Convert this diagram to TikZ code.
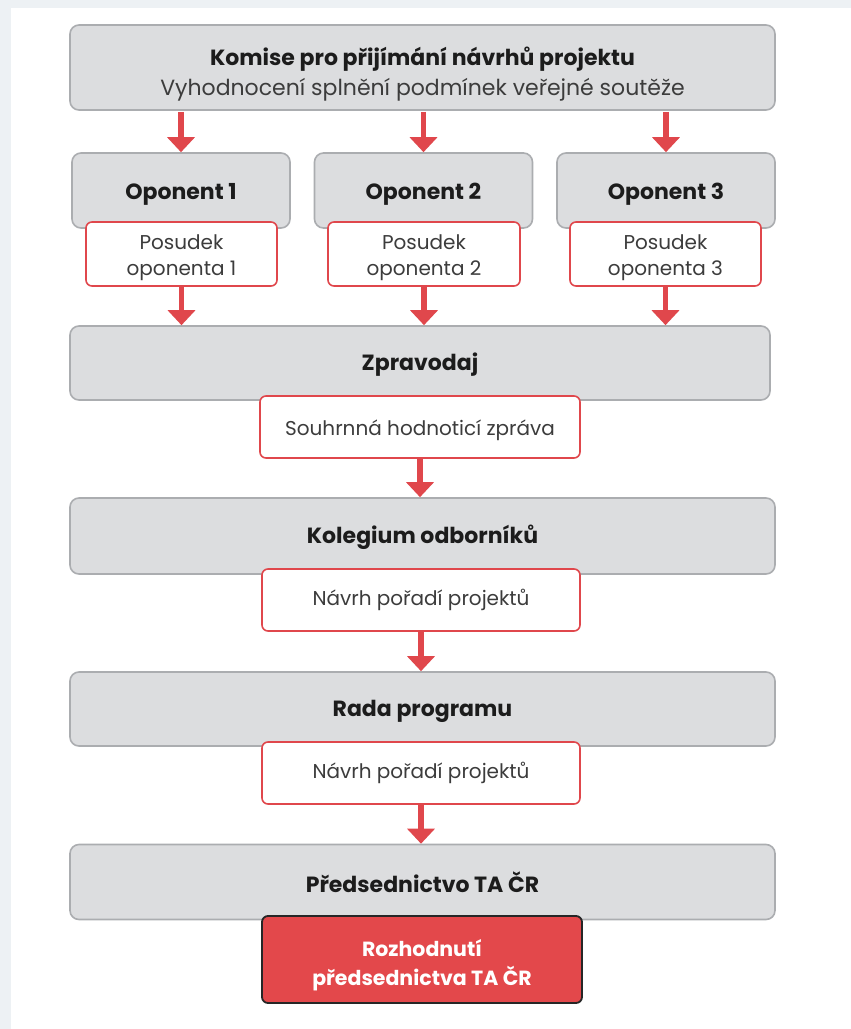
\documentclass[tikz,border=0pt]{standalone}
\usepackage{fontspec}
\setmainfont{Poppins}
\usetikzlibrary{arrows.meta}
\definecolor{boxgray}{HTML}{DCDDDF}
\definecolor{bordergray}{HTML}{ABADB0}
\definecolor{myred}{HTML}{E0474C}
\definecolor{fillred}{HTML}{E3484B}
\definecolor{bgstrip}{HTML}{EDF1F4}
\definecolor{txtdark}{HTML}{1C1C1C}
\definecolor{txtsub}{HTML}{3C3C3C}
\newcommand{\lowtext}[2]{\raisebox{-#1}[0pt][0pt]{\begin{tabular}{@{}c@{}}#2\end{tabular}}}
\tikzset{
  graybox/.style={draw=bordergray, line width=1.6pt, fill=boxgray, rounded corners=9pt, inner sep=0pt, text=txtdark, align=center},
  outbox/.style={draw=myred, line width=1.6pt, fill=white, rounded corners=6pt, inner sep=0pt, text=txtsub, align=center, font=\fontsize{20}{26}\selectfont},
  finalbox/.style={draw=black!85, line width=1.8pt, fill=fillred, rounded corners=6pt, inner sep=0pt, text=white, align=center, font=\bfseries\fontsize{20.5}{29}\selectfont},
  flow/.style={draw=myred, line width=5.5pt, -{Triangle[width=27pt,length=15pt]}},
  titlefont/.style={font=\bfseries\fontsize{22}{26}\selectfont}
}
\begin{document}
\begin{tikzpicture}[x=1pt,y=-1pt]
\useasboundingbox (0,0) rectangle (851,1029);
\fill[bgstrip] (0,0) rectangle (851,1029);
\fill[white] (11,8) rectangle (851,1029);

% gray boxes
\node[graybox, font=\fontsize{22}{30}\selectfont, minimum width=705pt, minimum height=85pt] (top) at (422.5,67.5)
  {\lowtext{12pt}{\bfseries Komise pro přijímání návrhů projektu\\
   \color{txtsub}Vyhodnocení splnění podmínek veřejné soutěže}};
\node[graybox, titlefont, minimum width=218pt, minimum height=75pt] (op1) at (181,190.5) {\lowtext{9pt}{Oponent 1}};
\node[graybox, titlefont, minimum width=218pt, minimum height=75pt] (op2) at (423.5,190.5) {\lowtext{9pt}{Oponent 2}};
\node[graybox, titlefont, minimum width=218pt, minimum height=75pt] (op3) at (666,190.5) {\lowtext{9pt}{Oponent 3}};
\node[graybox, titlefont, minimum width=700pt, minimum height=74pt] (zpr) at (420,363) {\lowtext{7.5pt}{Zpravodaj}};
\node[graybox, titlefont, minimum width=705pt, minimum height=76pt] (kol) at (422.5,536) {\lowtext{7.5pt}{Kolegium odborníků}};
\node[graybox, titlefont, minimum width=705pt, minimum height=74pt] (rada) at (422.5,709) {\lowtext{7.5pt}{Rada programu}};
\node[graybox, titlefont, minimum width=705pt, minimum height=75pt] (pred) at (422.5,882) {Předsednictvo TA ČR};

% output boxes
\node[outbox, minimum width=191pt, minimum height=64pt] (p1) at (181.5,254) {\lowtext{8.5pt}{Posudek\\oponenta 1}};
\node[outbox, minimum width=192pt, minimum height=64pt] (p2) at (424,254) {\lowtext{8.5pt}{Posudek\\oponenta 2}};
\node[outbox, minimum width=191pt, minimum height=64pt] (p3) at (665.5,254) {\lowtext{8.5pt}{Posudek\\oponenta 3}};
\node[outbox, minimum width=320pt, minimum height=62pt] (souhrn) at (420,427) {\lowtext{8pt}{Souhrnná hodnoticí zpráva}};
\node[outbox, minimum width=318pt, minimum height=62pt] (navrh1) at (421,600) {Návrh pořadí projektů};
\node[outbox, minimum width=318pt, minimum height=62pt] (navrh2) at (421,773) {Návrh pořadí projektů};
\node[finalbox, minimum width=320pt, minimum height=87pt] (final) at (422,959.5) {\lowtext{10.5pt}{Rozhodnutí\\předsednictva TA ČR}};

% connectors
\draw[flow] (op1.north |- top.south) ++(0,1) -- (op1.north);
\draw[flow] (op2.north |- top.south) ++(0,1) -- (op2.north);
\draw[flow] (op3.north |- top.south) ++(0,1) -- (op3.north);
\draw[flow] (p1.south) -- (p1.south |- zpr.north);
\draw[flow] (p2.south) -- (p2.south |- zpr.north);
\draw[flow] (p3.south) -- (p3.south |- zpr.north);
\draw[flow] (souhrn.south) -- (souhrn.south |- kol.north);
\draw[flow] (navrh1.south) -- (navrh1.south |- rada.north);
\draw[flow] (navrh2.south) -- (navrh2.south |- pred.north);
\end{tikzpicture}
\end{document}
